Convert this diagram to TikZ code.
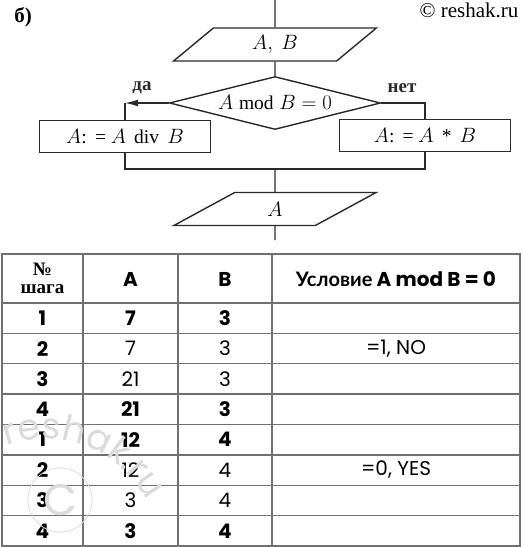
\documentclass[tikz,border=0pt]{standalone}
\usepackage{fontspec}
\setmainfont{Liberation Serif}
\newfontfamily\pop{Poppins}
\newfontfamily\lat{Lato}
\usetikzlibrary{shapes.geometric,arrows.meta,decorations.text}
\definecolor{ink}{HTML}{2A2A2A}
\definecolor{grid}{HTML}{707070}
\tikzset{
  x=1pt,y=-1pt,
  ffont/.style={font=\fontsize{19.5}{22}\selectfont},
  flow/.style={draw=ink,line width=1.4pt},
  io/.style={flow,trapezium,trapezium left angle=51,trapezium right angle=129,
    trapezium stretches=true,minimum width=203pt,minimum height=33pt,inner sep=0pt,ffont},
  proc/.style={flow,rectangle,minimum width=171pt,minimum height=32pt,inner sep=0pt,ffont},
  cond/.style={flow,diamond,aspect=4,minimum width=211pt,minimum height=53pt,inner sep=0pt,ffont},
  lbl/.style={font=\fontsize{19}{20}\selectfont\bfseries,text=ink},
  conn/.style={draw=ink,line width=1.4pt},
  gridline/.style={draw=grid,line width=1.3pt},
  cb/.style={font=\pop\bfseries\fontsize{20}{22}\selectfont},
  cr/.style={font=\pop\fontsize{20}{22}\selectfont},
  wm/.style={text=gray!30}
}
\begin{document}
\begin{tikzpicture}
\useasboundingbox (0,0) rectangle (523,547);
\fill[white] (0,0) rectangle (523,547);
% header texts
\node[font=\fontsize{21}{22}\selectfont\bfseries] (lab) at (23,17) {б)};
\node[font=\fontsize{21}{22}\selectfont,anchor=east] (copy) at (522,10) {© reshak.ru};
% flowchart
\coordinate (start) at (275,0);
\node[io] (in) at (275,44.5) {$A,\ B$};
\node[cond] (c) at (275,103) {$A \bmod B = 0$};
\node[proc] (yes) at (125,136.5) {$A$:\ \,=\ $A$ \,div\, $B$};
\node[proc] (no) at (425,135.5) {$A$:\ \,=\ $A$ \,*\, $B$};
\coordinate (m) at (275,169);
\node[io] (out) at (275,209) {$A$};
\coordinate (end) at (275,240);
\node[lbl] (da) at (142,88) {да};
\node[lbl] (net) at (402,88) {нет};
\draw[conn] (start) -- (in.north);
\draw[conn] (in.south) -- (c.north);
\draw[conn,-{Latex[length=13pt,width=7pt]}] (c.west) -- (c.west -| yes.north);
\draw[conn] (c.west -| yes.north) -- (yes.north);
\draw[conn] (c.east) -| (no.north);
\draw[conn] (yes.south) |- (m);
\draw[conn] (no.south) |- (m);
\draw[conn] (m) -- (out.north);
\draw[conn] (out.south) -- (end);
% table grid
\draw[gridline] (2,254) rectangle (520,546);
\foreach \xx in {83,178,272} \draw[gridline] (\xx,254) -- (\xx,546);
\foreach \k in {0,...,7} \draw[gridline] (2,303+30.375*\k) -- (520,303+30.375*\k);
% header
\node[align=center,font=\fontsize{19}{18}\selectfont\bfseries] (h1) at (42.5,278.5) {№\\шага};
\node[cb] (h2) at (130.5,279) {A};
\node[cb] (h3) at (225,279) {B};
\node[cb] (h4) at (396,279) {{\lat\bfseries Условие} A mod B = 0};
% rows
\foreach \r/\a/\b/\c/\fa/\fb in {
  1/1/7/3/cb/cb, 2/2/7/3/cr/cr, 3/3/21/3/cr/cr, 4/4/21/3/cb/cb,
  5/1/12/4/cb/cb, 6/2/12/4/cr/cr, 7/3/3/4/cr/cr, 8/4/3/4/cb/cb}{
  \node[cb] (n\r) at (42.5,303+30.375*\r-15.2) {\a};
  \node[\fa] (a\r) at (130.5,303+30.375*\r-15.2) {\b};
  \node[\fb] (b\r) at (225,303+30.375*\r-15.2) {\c};
}
\node[cr] (c2) at (396,348.2) {=1, NO};
\node[cr] (c6) at (396,470) {=0, YES};
% watermark
\path[decorate,decoration={text along path,
  text={|\pop\fontsize{36}{36}\selectfont\color{gray!28}|reshak.ru}}]
  (7,446) .. controls (65,425) and (138,448) .. (168,548);
\node[wm,draw=gray!28,circle,line width=0.8pt,minimum size=64pt,inner sep=0pt,font=\pop\fontsize{44}{44}\selectfont,text=gray!28] (wmc) at (60,500) {C};
\end{tikzpicture}
\end{document}
